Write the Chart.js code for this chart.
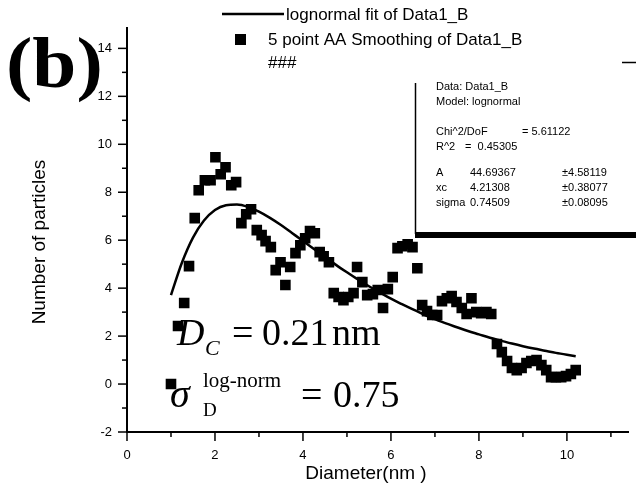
<!DOCTYPE html>
<html>
<head>
<meta charset="utf-8">
<script src="https://cdn.jsdelivr.net/npm/chart.js@4.4.0/dist/chart.umd.min.js"></script>
<style>
html,body{margin:0;padding:0;background:#fff;}
#wrap{width:636px;height:495px;}
</style>
</head>
<body>
<div id="wrap"><canvas id="myChart"></canvas></div>
<script>
// smoothed histogram points (Diameter nm, number of particles)
var diameters = [1.00,1.16,1.30,1.41,1.54,1.63,1.77,1.90,2.01,2.13,
	2.24,2.37,2.48,2.60,2.71,2.82,2.95,3.06,3.15,3.27,
	3.38,3.49,3.60,3.71,3.83,3.94,4.05,4.16,4.27,4.38,
	4.47,4.59,4.70,4.81,4.92,5.03,5.15,5.23,5.35,5.46,
	5.59,5.70,5.82,5.93,6.04,6.15,6.26,6.38,6.49,6.60,
	6.71,6.82,6.94,7.05,7.16,7.27,7.38,7.49,7.61,7.72,
	7.83,7.94,8.05,8.17,8.28,8.41,8.52,8.64,8.75,8.86,
	8.97,9.08,9.19,9.31,9.42,9.53,9.64,9.75,9.87,9.98,
	10.09,10.20];
var counts = [0.00,2.42,3.38,4.92,6.92,8.08,8.50,8.50,9.46,8.75,
	9.04,8.29,8.42,6.71,7.08,7.29,6.42,6.21,5.96,5.71,
	4.75,5.08,4.13,4.88,5.46,5.79,6.08,6.38,6.29,5.50,
	5.33,5.08,3.79,3.63,3.50,3.63,3.79,4.88,4.25,3.71,
	3.75,3.92,3.17,3.96,4.46,5.67,5.75,5.83,5.71,4.83,
	3.29,3.04,2.88,2.88,3.46,3.58,3.67,3.42,3.17,2.92,
	3.58,3.00,2.96,3.00,2.92,1.67,1.33,0.96,0.67,0.58,
	0.67,0.88,0.96,1.00,0.79,0.58,0.29,0.29,0.29,0.33,
	0.42,0.58];

// lognormal fit curve
var fitX = [1.00,1.25,1.50,1.75,2.00,2.25,2.50,2.75,3.00,3.25,
	3.50,3.75,4.00,4.25,4.50,4.75,5.00,5.25,5.50,5.75,
	6.00,6.25,6.50,6.75,7.00,7.25,7.50,7.75,8.00,8.25,
	8.50,8.75,9.00,9.25,9.50,9.75,10.00,10.20];
var fitY = [3.71,5.07,6.11,6.82,7.26,7.46,7.49,7.39,7.19,6.93,
	6.63,6.30,5.97,5.63,5.30,4.97,4.66,4.36,4.08,3.82,
	3.56,3.33,3.11,2.90,2.71,2.53,2.37,2.21,2.07,1.93,
	1.81,1.69,1.58,1.48,1.39,1.30,1.22,1.16];

var xMinorTicks = [0,1,2,3,4,5,6,7,8,9,10,11];
var yMinorTicks = [-2,-1,0,1,2,3,4,5,6,7,8,9,10,11,12,13,14];

var legendLabels = ['lognormal fit of Data1_B', '5 point AA Smoothing of Data1_B', '###'];
var fitReport = [
	['Data: Data1_B'],
	['Model: lognormal'],
	[],
	['Chi^2/DoF', '= 5.61122'],
	['R^2', '=  0.45305'],
	[],
	['A', '44.69367', '\u00b14.58119'],
	['xc', '4.21308', '\u00b10.38077'],
	['sigma', '0.74509', '\u00b10.08095']
];

function pts(xs, ys) {
	var out = [];
	for (var i = 0; i < xs.length; i++) out.push({x: xs[i], y: ys[i]});
	return out;
}

var annotate = {
	id: 'annotate',
	afterDraw: function(chart) {
		var ctx = chart.ctx;
		var a = chart.chartArea;
		var xs = chart.scales.x, ys = chart.scales.y;
		ctx.save();
		ctx.strokeStyle = '#000';
		ctx.fillStyle = '#000';

		// major / minor ticks, outward
		ctx.lineWidth = 1.5;
		xMinorTicks.forEach(function(v) {
			var px = xs.getPixelForValue(v);
			var len = v % 2 ? 5 : 9;
			ctx.beginPath(); ctx.moveTo(px, a.bottom); ctx.lineTo(px, a.bottom + len); ctx.stroke();
		});
		yMinorTicks.forEach(function(v) {
			var py = ys.getPixelForValue(v);
			var len = v % 2 ? 5 : 9;
			ctx.beginPath(); ctx.moveTo(a.left, py); ctx.lineTo(a.left - len, py); ctx.stroke();
		});

		// axis titles
		ctx.font = '19px "Liberation Sans", Arial';
		ctx.textAlign = 'center';
		ctx.textBaseline = 'middle';
		ctx.fillText('Diameter(nm )', 366, 474);
		ctx.save();
		ctx.translate(40, 242);
		ctx.rotate(-Math.PI / 2);
		ctx.fillText('Number of particles', 0, 0);
		ctx.restore();

		// legend
		ctx.textAlign = 'left';
		ctx.font = '17px "Liberation Sans", Arial';
		ctx.lineWidth = 2.5;
		ctx.beginPath(); ctx.moveTo(222, 14); ctx.lineTo(284, 14); ctx.stroke();
		ctx.fillText(legendLabels[0], 286, 15);
		ctx.fillRect(235, 34, 11, 11);
		ctx.fillText(legendLabels[1], 268, 40);
		ctx.fillText(legendLabels[2], 268, 63);

		// panel letter
		ctx.save();
		ctx.translate(6, 87);
		ctx.scale(1.1, 1);
		ctx.font = 'bold 72px "Liberation Serif", "Times New Roman"';
		ctx.textBaseline = 'alphabetic';
		ctx.fillText('(b)', 0, 0);
		ctx.restore();

		// D_C and sigma
		ctx.textBaseline = 'alphabetic';
		ctx.font = 'italic 38px "Liberation Serif"';
		ctx.fillText('D', 177, 345);
		ctx.font = 'italic 22px "Liberation Serif"';
		ctx.fillText('C', 205, 355);
		ctx.font = '38px "Liberation Serif"';
		ctx.fillText('=', 232, 345);
		ctx.fillText('0.21', 262, 345);
		ctx.fillText('nm', 332, 345);

		ctx.font = 'italic 40px "Liberation Serif"';
		ctx.fillText('\u03c3', 170, 407);
		ctx.font = '21px "Liberation Serif"';
		ctx.fillText('log-norm', 203, 387);
		ctx.font = '19px "Liberation Serif"';
		ctx.fillText('D', 203, 416);
		ctx.font = '38px "Liberation Serif"';
		ctx.fillText('=', 301, 407);
		ctx.fillText('0.75', 333, 407);

		// fit report box
		ctx.fillStyle = '#fff';
		ctx.fillRect(416, 63, 220, 170);
		ctx.fillStyle = '#000';
		ctx.lineWidth = 1.5;
		ctx.beginPath(); ctx.moveTo(415.5, 83); ctx.lineTo(415.5, 234); ctx.stroke();
		ctx.beginPath(); ctx.moveTo(622, 62.5); ctx.lineTo(636, 62.5); ctx.stroke();
		ctx.fillRect(415, 232, 221, 6);
		ctx.font = '11px "Liberation Sans", Arial';
		ctx.textBaseline = 'middle';
		var cols = [436, 470, 562];
		var rowY = [87, 102, 117, 132, 147, 160, 173, 188, 203];
		fitReport.forEach(function(row, r) {
			if (row.length === 1) ctx.fillText(row[0], cols[0], rowY[r]);
			else if (row.length === 2) {
				ctx.fillText(row[0], cols[0], rowY[r]);
				ctx.fillText(row[1], r === 3 ? 522 : 465, rowY[r]);
			} else {
				row.forEach(function(t, c) { ctx.fillText(t, cols[c], rowY[r]); });
			}
		});
		ctx.restore();
	}
};

var config = {
	type: 'scatter',
	data: {
		datasets: [{
			label: legendLabels[0],
			data: pts(fitX, fitY),
			showLine: true,
			borderColor: '#000',
			borderWidth: 2.5,
			pointRadius: 0,
			cubicInterpolationMode: 'monotone',
			fill: false
		}, {
			label: legendLabels[1],
			data: pts(diameters, counts),
			pointStyle: 'rect',
			pointRadius: 7.5,
			backgroundColor: '#000',
			borderColor: '#000',
			borderWidth: 0
		}]
	},
	options: {
		animation: false,
		responsive: true,
		maintainAspectRatio: false,
		devicePixelRatio: 1,
		layout: {padding: {top: 28, left: 0, right: 0, bottom: 0}},
		plugins: {legend: {display: false}, tooltip: {enabled: false}},
		scales: {
			x: {
				type: 'linear',
				min: 0,
				max: 11.4,
				afterFit: function(s) { s.height = 63; },
				grid: {display: false},
				border: {display: true, color: '#000', width: 2},
				ticks: {stepSize: 2, includeBounds: false, color: '#000', padding: 8,
					maxRotation: 0, font: {family: '"Liberation Sans", Arial', size: 13}}
			},
			y: {
				type: 'linear',
				min: -2,
				max: 14.85,
				afterFit: function(s) { s.width = 127; },
				grid: {display: false},
				border: {display: true, color: '#000', width: 2},
				ticks: {stepSize: 2, includeBounds: false, color: '#000', padding: 7,
					font: {family: '"Liberation Sans", Arial', size: 13}}
			}
		}
	},
	plugins: [annotate]
};

window.onload = function() {
	var ctx = document.getElementById('myChart').getContext('2d');
	window.myChart = new Chart(ctx, config);
};
</script>
</body>
</html>
